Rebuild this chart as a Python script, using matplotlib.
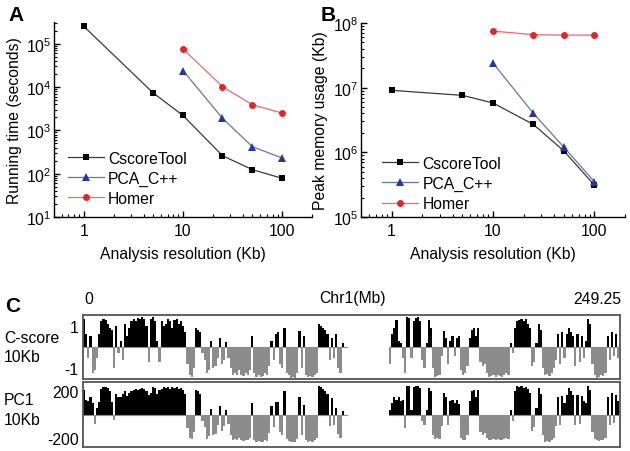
import numpy as np
import matplotlib
matplotlib.use("Agg")
import matplotlib.pyplot as plt
from matplotlib.ticker import LogLocator, FixedLocator, FixedFormatter, NullFormatter

plt.rcParams['font.family'] = ['Liberation Sans', 'DejaVu Sans']
plt.rcParams['mathtext.default'] = 'regular'

# ---------------- data ----------------
resolution_all = [1, 5, 10, 25, 50, 100]
resolution_10 = [10, 25, 50, 100]

time_cscore = [2.5e5, 7.3e3, 2.2e3, 260, 124, 78]
time_pca = [2.4e4, 1.9e3, 420, 230]
time_homer = [7.6e4, 1.02e4, 3.9e3, 2.5e3]

mem_cscore = [9.1e6, 7.6e6, 5.8e6, 2.7e6, 1.05e6, 3.1e5]
mem_pca = [2.4e7, 4.0e6, 1.2e6, 3.5e5]
mem_homer = [7.5e7, 6.6e7, 6.5e7, 6.5e7]

series_names = ["CscoreTool", "PCA_C++", "Homer"]

chr1_length = 249.25
# C-score at 1 Mb bins (index = Mb start); nan = unmapped gap
cscore_10kb = [
    1.3, 0.6, -0.5, 0.5, -1.2, -1.1, -0.5, 0.6, 1.2, 1.3,
    1.25, 1.1, 0.9, 0.8, -1.0, 1.0, -0.3, 0.3, -0.6, 1.1,
    0.5, 0.9, 1.2, 1.3, 1.2, 1.35, 1.3, 1.4, 1.3, 1.0,
    -0.7, 1.3, 1.4, 1.2, 0.3, -0.7, 1.2, 1.0, 1.1, 1.3,
    1.2, 0.9, 1.25, 1.3, 1.1, 1.2, 1.0, 0.7, -0.8, -1.3,
    -1.4, -1.0, 0.9, 0.8, 0.7, -0.3, -0.6, -1.2, -1.1, 0.3,
    -1.0, -0.9, -0.5, 0.4, -0.8, -0.6, 0.25, -0.5, -1.0, -1.3,
    -1.2, -1.3, -1.1, -1.3, -1.35, -1.2, -1.3, -1.1, 0.5, -1.2,
    -1.4, -1.3, -1.4, -1.35, -1.2, -1.3, -0.9, 0.3, -0.6, 0.6,
    0.7, -0.8, -1.0, 0.9, -1.2, -1.3, -1.45, -1.4, -1.45, -1.2,
    0.75, -1.0, 0.5, -1.3, -1.4, -1.35, -1.4, -1.3, -1.2, 1.1,
    1.0, 0.9, 0.8, 0.6, -0.6, 0.4, -0.5, 0.6, -1.0, -1.2,
    0.2, -0.9, np.nan, np.nan, np.nan, np.nan, np.nan, np.nan, np.nan, np.nan,
    np.nan, np.nan, np.nan, np.nan, np.nan, np.nan, np.nan, np.nan, np.nan, np.nan,
    np.nan, np.nan, -0.8, 0.6, 0.9, 1.25, 0.3, 0.2, -0.5, -1.2,
    1.4, 1.35, -0.5, 1.2, 1.35, 1.4, 1.2, -0.6, -1.0, 0.2,
    1.25, 0.9, -1.0, -1.4, -1.35, -1.3, -0.4, 0.75, 0.4, -0.8,
    0.3, 0.5, -0.4, 0.4, 0.5, -1.1, -1.3, -1.2, -0.9, 0.4,
    0.8, 0.9, 0.5, 0.9, -0.7, -0.9, -0.8, -1.2, -1.4, -1.35,
    -1.3, -1.4, -1.3, -1.35, -1.4, -1.3, -1.2, -1.3, 0.2, -0.3,
    0.9, 1.2, 1.25, 1.3, 1.2, 1.3, 1.1, 0.9, -0.9, -0.7,
    0.2, 1.1, 0.8, -1.0, -1.3, -1.25, -1.35, -1.2, -1.0, -0.6,
    0.6, -0.8, 0.7, -0.5, 0.6, 0.9, 0.7, 0.5, -0.9, 0.6,
    -0.7, 0.5, -0.5, 0.3, 1.3, 1.1, -0.8, -1.3, -1.45, -1.4,
    -1.3, -1.35, -1.2, 0.5, -0.6, 0.7, -0.4, 0.6, -0.5,
]
pc1_10kb = [
    215, 125, 120, 155, 100, -80, 60, 110, 220, 235,
    240, 230, 200, 110, -50, 180, 150, 150, 180, 200,
    160, 190, 200, 210, 220, 215, 225, 230, 220, 200,
    170, 190, 240, 230, 180, 210, 220, 235, 230, 240,
    225, 240, 230, 235, 220, 230, 210, 180, -120, -200,
    -210, -150, 210, 200, 180, -60, -110, -210, -190, 50,
    -180, -170, -90, 70, -140, -100, 40, -80, -180, -225,
    -210, -225, -200, -225, -230, -220, -225, -200, 100, -220,
    -240, -230, -240, -235, -220, -230, -160, 70, -110, 110,
    110, -150, -180, 200, -210, -230, -240, -235, -240, -210,
    155, -180, 80, -220, -235, -230, -235, -225, -200, 245,
    240, 220, 200, 180, -100, 140, -90, 60, -170, -200,
    30, -150, np.nan, np.nan, np.nan, np.nan, np.nan, np.nan, np.nan, np.nan,
    np.nan, np.nan, np.nan, np.nan, np.nan, np.nan, np.nan, np.nan, np.nan, np.nan,
    np.nan, np.nan, 40, 100, 150, 130, 150, 120, 130, -120,
    250, 245, 40, 240, 250, 245, 230, -60, -95, 40,
    230, 200, -180, -210, -200, -210, -100, 185, 150, -95,
    115, 125, 100, 125, 90, -200, -225, -220, -180, 120,
    200, 215, 150, 210, -150, -180, -160, -200, -225, -220,
    -215, -225, -210, -225, -220, -215, -200, -210, 40, -60,
    200, 245, 235, 245, 230, 240, 220, 190, -140, -110,
    60, 230, 180, -180, -240, -230, -240, -225, -200, -100,
    155, -95, 160, 100, 170, 230, 200, 170, -90, 170,
    -80, 160, 120, 100, 245, 210, -150, -215, -225, -230,
    -220, -225, -200, 150, -90, 185, -70, 170, 120,
]

# ---------------- figure ----------------
W, H = 630, 452
fig = plt.figure(figsize=(W / 100, H / 100), dpi=100)

def rect(l, t, r, b):
    return [l / W, 1 - b / H, (r - l) / W, (b - t) / H]

FS = 11.3
black_line, black_mk = '#3a3a3a', '#000000'
blue_line, blue_mk = '#6674b4', '#26399a'
red_line, red_mk = '#e86a6a', '#e0262a'

def style_log_axes(ax, ylim, ylabel):
    ax.set_xscale('log')
    ax.set_yscale('log')
    ax.set_xlim(0.5, 200)
    ax.set_ylim(*ylim)
    for s in ['top', 'right']:
        ax.spines[s].set_visible(False)
    for s in ['left', 'bottom']:
        ax.spines[s].set_linewidth(1.0)
    ax.xaxis.set_major_locator(FixedLocator([1, 10, 100]))
    ax.xaxis.set_major_formatter(FixedFormatter(['1', '10', '100']))
    ax.xaxis.set_minor_locator(LogLocator(base=10, subs=np.arange(2, 10)))
    ax.xaxis.set_minor_formatter(NullFormatter())
    ax.yaxis.set_minor_locator(LogLocator(base=10, subs=np.arange(2, 10), numticks=20))
    ax.yaxis.set_minor_formatter(NullFormatter())
    ax.tick_params(which='major', direction='in', length=4, width=1.0, labelsize=FS)
    ax.tick_params(which='minor', direction='in', length=2.2, width=0.8)
    ax.tick_params(axis='x', which='major', pad=4)
    ax.tick_params(axis='y', which='major', pad=2)
    ax.set_xlabel('Analysis resolution (Kb)', fontsize=FS)
    ax.set_ylabel(ylabel, fontsize=FS)
    ax.xaxis.set_label_coords(0.5, -0.15)
    ax.yaxis.set_label_coords(-0.125, 0.5)

def plot_series(ax, ys):
    kw = dict(lw=0.9, ms=5, markeredgewidth=0)
    ax.plot(resolution_all, ys[0], color=black_line, marker='s', mfc=black_mk, label=series_names[0], **kw)
    ax.plot(resolution_10, ys[1], color=blue_line, marker='^', mfc=blue_mk, label=series_names[1], **dict(kw, ms=6))
    ax.plot(resolution_10, ys[2], color=red_line, marker='o', mfc=red_mk, label=series_names[2], **kw)

leg_kw = dict(loc='upper left', frameon=False, fontsize=FS, handlelength=2.3, handletextpad=0.25,
              labelspacing=0.32, borderpad=0, borderaxespad=0)

# Panel A
axA = fig.add_axes(rect(54, 23, 312, 218))
plot_series(axA, [time_cscore, time_pca, time_homer])
style_log_axes(axA, (10, 10 ** 5.5), 'Running time (seconds)')
axA.yaxis.set_major_locator(LogLocator(base=10, numticks=10))
axA.legend(bbox_to_anchor=(0.054, 0.34), **leg_kw)

# Panel B
axB = fig.add_axes(rect(361, 24, 625, 218))
plot_series(axB, [mem_cscore, mem_pca, mem_homer])
style_log_axes(axB, (1e5, 1e8), 'Peak memory usage (Kb)')
axB.yaxis.set_major_locator(FixedLocator([1e5, 1e6, 1e7, 1e8]))
axB.legend(bbox_to_anchor=(0.081, 0.315), **leg_kw)

fig.text(8 / W, 1 - 6 / H, 'A', fontsize=15, fontweight='bold', va='top', ha='left')
fig.text(321 / W, 1 - 6 / H, 'B', fontsize=15, fontweight='bold', va='top', ha='left')
fig.text(5 / W, 1 - 297 / H, 'C', fontsize=15, fontweight='bold', va='top', ha='left')

# Panel C
def track(ax, vals, lim, ticks, ticklabels):
    vals = np.asarray(vals, dtype=float)
    edges = np.arange(len(vals) + 1, dtype=float)
    edges[-1] = min(edges[-1], chr1_length)
    ext = np.append(vals, vals[-1])
    pos = np.where(ext > 0, ext, 0.0)
    neg = np.where(ext < 0, ext, 0.0)
    valid = ~np.isnan(ext)
    ax.fill_between(edges, 0, np.where(valid, neg, np.nan), step='post', color='#8c8c8c', lw=0)
    ax.fill_between(edges, 0, np.where(valid, pos, np.nan), step='post', color='#000000', lw=0)
    ax.axhline(0, color='#8c8c8c', lw=0.8, xmin=0, xmax=122.4 / chr1_length)
    ax.axhline(0, color='#8c8c8c', lw=0.8, xmin=142.0 / chr1_length, xmax=248.8 / chr1_length)
    ax.set_xlim(0, chr1_length)
    ax.set_ylim(-lim, lim)
    ax.set_xticks([])
    ax.set_yticks(ticks)
    ax.set_yticklabels(ticklabels)
    ax.tick_params(axis='y', length=0, labelsize=FS, pad=3)
    for s in ax.spines.values():
        s.set_color('#555555')
        s.set_linewidth(1.3)

axC1 = fig.add_axes(rect(83, 316, 620, 380))
track(axC1, cscore_10kb, 1.5, [1, -1], ['1', '-1'])
axC2 = fig.add_axes(rect(83, 383, 620, 448))
track(axC2, pc1_10kb, 282, [200, -200], ['200', '-200'])

fig.text(352 / W, 1 - 298 / H, 'Chr1(Mb)', fontsize=FS, ha='center', va='center')
fig.text(84 / W, 1 - 300 / H, '0', fontsize=FS, ha='left', va='center')
fig.text(621 / W, 1 - 300 / H, '249.25', fontsize=FS, ha='right', va='center')
fig.text(4 / W, 1 - 339 / H, 'C-score', fontsize=FS, ha='left', va='center')
fig.text(4 / W, 1 - 358 / H, '10Kb', fontsize=FS, ha='left', va='center')
fig.text(4 / W, 1 - 401 / H, 'PC1', fontsize=FS, ha='left', va='center')
fig.text(4 / W, 1 - 421 / H, '10Kb', fontsize=FS, ha='left', va='center')

fig.savefig('out.png', dpi=100)
